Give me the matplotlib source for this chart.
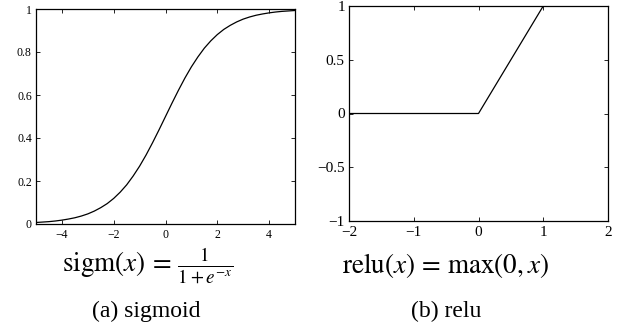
import matplotlib
matplotlib.use("Agg")
import matplotlib.pyplot as plt

plt.rcParams['font.family'] = ['Liberation Serif', 'DejaVu Serif']
plt.rcParams['mathtext.fontset'] = 'stix'

# sigmoid curve, values
sig_x = [-5, -4.75, -4.5, -4.25, -4, -3.75, -3.5, -3.25, -3, -2.75, -2.5,
         -2.25, -2, -1.75, -1.5, -1.25, -1, -0.75, -0.5, -0.25, 0,
         0.25, 0.5, 0.75, 1, 1.25, 1.5, 1.75, 2, 2.25, 2.5,
         2.75, 3, 3.25, 3.5, 3.75, 4, 4.25, 4.5, 4.75, 5]
sig_y = [0.007, 0.009, 0.011, 0.014, 0.018, 0.023, 0.029, 0.037, 0.047, 0.060, 0.076,
         0.095, 0.119, 0.148, 0.182, 0.223, 0.269, 0.321, 0.378, 0.438, 0.5,
         0.562, 0.622, 0.679, 0.731, 0.777, 0.818, 0.852, 0.881, 0.905, 0.924,
         0.940, 0.953, 0.963, 0.971, 0.977, 0.982, 0.986, 0.989, 0.991, 0.993]
sig_xticks = [-4, -2, 0, 2, 4]
sig_yticks = [0, 0.2, 0.4, 0.6, 0.8, 1]
sig_yticklabels = ['0', '0.2', '0.4', '0.6', '0.8', '1']

# relu corners
relu_x = [-2, 0, 2]
relu_y = [0, 0, 2]
relu_xticks = [-2, -1, 0, 1, 2]
relu_yticks = [-1, -0.5, 0, 0.5, 1]
relu_yticklabels = ['\u22121', '\u22120.5', '0', '0.5', '1']

fig = plt.figure(figsize=(6.23, 3.27), dpi=100)
W, H = 623, 327


def box(x0, y0, x1, y1):
    return [x0 / W, 1 - y1 / H, (x1 - x0) / W, (y1 - y0) / H]


def style(ax, size):
    ax.tick_params(direction='in', top=True, right=True, length=3, width=0.6,
                   labelsize=size, pad=3)
    for s in ax.spines.values():
        s.set_linewidth(0.9)


ax1 = fig.add_axes(box(36, 9, 295, 224))
ax1.plot(sig_x, sig_y, color='black', lw=0.9)
ax1.set_xlim(-5, 5)
ax1.set_ylim(0, 1)
ax1.set_xticks(sig_xticks)
ax1.set_xticklabels(['\u2212' + str(-t) if t < 0 else str(t) for t in sig_xticks])
ax1.set_yticks(sig_yticks)
ax1.set_yticklabels(sig_yticklabels)
style(ax1, 8.5)
ax1.tick_params(axis='x', pad=3.5)

ax2 = fig.add_axes(box(349, 6, 608, 221))
ax2.plot(relu_x, relu_y, color='black', lw=0.9)
ax2.set_xlim(-2, 2)
ax2.set_ylim(-1, 1)
ax2.set_xticks(relu_xticks)
ax2.set_xticklabels(['\u2212' + str(-t) if t < 0 else str(t) for t in relu_xticks])
ax2.set_yticks(relu_yticks)
ax2.set_yticklabels(relu_yticklabels)
style(ax2, 11)
ax2.tick_params(axis='x', pad=3.5)

fig.text(148 / W, 1 - 265 / H, r'$\mathrm{sigm}(x)\,=\,\frac{1}{1+e^{-x}}$',
         ha='center', va='center', fontsize=19.5)
fig.text(146 / W, 1 - 311 / H, '(a) sigmoid', ha='center', va='center', fontsize=17)
fig.text(446 / W, 1 - 265 / H, r'$\mathrm{relu}(x)\,=\,\max(0,x)$',
         ha='center', va='center', fontsize=19.5)
fig.text(446 / W, 1 - 311 / H, '(b) relu', ha='center', va='center', fontsize=17)

fig.savefig('out.png', dpi=100)
